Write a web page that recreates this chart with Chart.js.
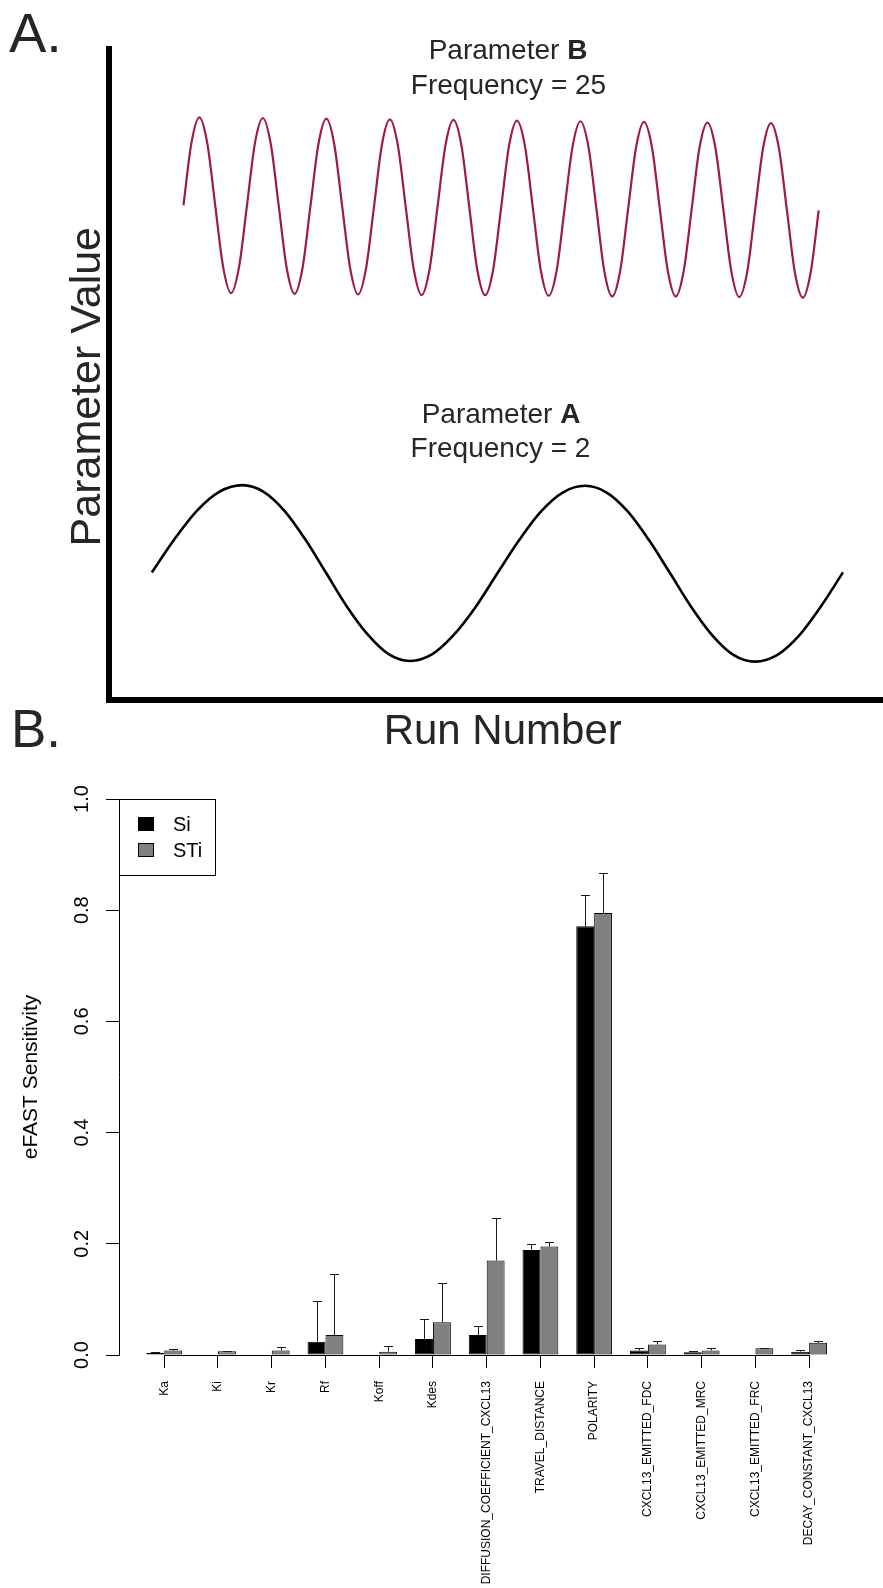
<!DOCTYPE html>
<html>
<head>
<meta charset="utf-8">
<title>eFAST sampling and sensitivity</title>
<script src="https://cdn.jsdelivr.net/npm/chart.js@4.4.1/dist/chart.umd.min.js"></script>
<style>
  html, body { margin: 0; padding: 0; background: #fff; }
  #wrap { position: relative; width: 883px; height: 1588px; overflow: hidden; }
  canvas { position: absolute; left: 0; display: block; }
  #waveChart { top: 0; }
  #sensChart { top: 760px; }
</style>
</head>
<body>
<div id="wrap">
  <canvas id="waveChart" width="883" height="760"></canvas>
  <canvas id="sensChart" width="883" height="828"></canvas>
</div>
<script>
// Panel A: run number (0-1000) against parameter value (0-1)
const waveBRun = [96.2, 106.4,
  116.7, 127.0, 137.2, 147.5, 157.7, 168.0, 178.3, 188.5,
  198.8, 209.0, 219.3, 229.5, 239.8, 250.1, 260.3, 270.6,
  280.8, 291.1, 301.3, 311.6, 321.8, 332.1, 342.4, 352.6,
  362.9, 373.2, 383.4, 393.7, 403.9, 414.2, 424.4, 434.7,
  445.0, 455.3, 465.5, 475.8, 486.0, 496.3, 506.6, 516.8,
  527.1, 537.4, 547.6, 557.9, 568.1, 578.4, 588.6, 598.9,
  609.1, 619.4, 629.7, 639.9, 650.2, 660.4, 670.7, 681.0,
  691.2, 701.5, 711.7, 722.0, 732.2, 742.5, 752.8, 763.0,
  773.3, 783.5, 793.8, 804.1, 814.3, 824.6, 834.8, 845.1,
  855.3, 865.6, 875.9, 886.1, 896.4, 906.6, 916.9];
const waveBValue = [0.760, 0.855,
  0.895, 0.855, 0.760, 0.665, 0.625, 0.665, 0.760, 0.855,
  0.894, 0.854, 0.759, 0.664, 0.624, 0.664, 0.759, 0.854,
  0.893, 0.853, 0.758, 0.663, 0.623, 0.663, 0.758, 0.853,
  0.892, 0.852, 0.757, 0.662, 0.622, 0.662, 0.757, 0.852,
  0.891, 0.852, 0.757, 0.661, 0.622, 0.661, 0.756, 0.851,
  0.890, 0.851, 0.756, 0.660, 0.621, 0.660, 0.755, 0.850,
  0.889, 0.850, 0.755, 0.659, 0.620, 0.659, 0.754, 0.849,
  0.888, 0.849, 0.754, 0.659, 0.620, 0.659, 0.754, 0.849,
  0.887, 0.848, 0.753, 0.658, 0.619, 0.658, 0.753, 0.848,
  0.886, 0.847, 0.752, 0.657, 0.618, 0.657, 0.752];

const waveARun = [55.3, 84.5, 113.8, 143.0, 172.2,
  199.3, 226.4, 253.5, 280.6, 307.7, 334.7, 361.8, 388.9,
  417.2, 445.4, 473.7, 502.0, 530.2, 558.5, 586.7, 615.0,
  642.5, 669.9, 697.4, 724.8, 752.3, 779.7, 807.2, 834.6,
  863.0, 891.5, 919.9, 948.3];
const waveAValue = [0.196, 0.247, 0.291, 0.320, 0.330,
  0.320, 0.291, 0.247, 0.195, 0.143, 0.100, 0.070, 0.060,
  0.070, 0.100, 0.143, 0.195, 0.246, 0.290, 0.319, 0.329,
  0.319, 0.290, 0.246, 0.195, 0.143, 0.099, 0.069, 0.059,
  0.069, 0.099, 0.144, 0.196];

// Panel B: eFAST sensitivity indices
const parameters = ["Ka", "Ki", "Kr", "Rf", "Koff", "Kdes", "DIFFUSION_COEFFICIENT_CXCL13",
  "TRAVEL_DISTANCE", "POLARITY", "CXCL13_EMITTED_FDC", "CXCL13_EMITTED_MRC",
  "CXCL13_EMITTED_FRC", "DECAY_CONSTANT_CXCL13"];
const si = [0.004, 0.001, 0.001, 0.024, 0.001, 0.029, 0.036, 0.189, 0.771, 0.008, 0.005, 0.001, 0.006];
const siErr = [0.002, 0, 0, 0.073, 0, 0.035, 0.017, 0.011, 0.057, 0.004, 0.003, 0, 0.003];
const sti = [0.008, 0.0066, 0.008, 0.036, 0.006, 0.059, 0.170, 0.195, 0.795, 0.019, 0.008, 0.012, 0.022];
const stiErr = [0.003, 0.001, 0.006, 0.110, 0.011, 0.071, 0.077, 0.009, 0.072, 0.007, 0.005, 0.001, 0.004];
const yTicks = [0, 0.2, 0.4, 0.6, 0.8, 1.0];

const FONT = '"Liberation Sans", Arial, Helvetica, sans-serif';
Chart.defaults.font.family = FONT;
Chart.defaults.color = '#000';

function toPoints(xs, ys) {
  return xs.map((x, i) => ({ x: x, y: ys[i] }));
}

// centred text with a bold last word
function mixedText(ctx, plain, bold, cx, y, size) {
  ctx.font = size + 'px ' + FONT;
  const w1 = ctx.measureText(plain).width;
  ctx.font = 'bold ' + size + 'px ' + FONT;
  const w2 = ctx.measureText(bold).width;
  const x0 = cx - (w1 + w2) / 2;
  ctx.textAlign = 'left';
  ctx.font = size + 'px ' + FONT;
  ctx.fillText(plain, x0, y);
  ctx.font = 'bold ' + size + 'px ' + FONT;
  ctx.fillText(bold, x0 + w1, y);
}

const panelAText = {
  id: 'panelAText',
  afterDraw(chart) {
    const ctx = chart.ctx;
    ctx.save();
    ctx.fillStyle = '#262626';
    ctx.textBaseline = 'alphabetic';
    ctx.textAlign = 'left';
    ctx.font = '56px ' + FONT;
    ctx.fillText('A.', 9, 52);
    ctx.font = '53px ' + FONT;
    ctx.fillText('B.', 11, 747);

    mixedText(ctx, 'Parameter ', 'B', 508, 59, 28);
    ctx.textAlign = 'center';
    ctx.font = '28px ' + FONT;
    ctx.fillText('Frequency = 25', 508.5, 94);
    mixedText(ctx, 'Parameter ', 'A', 501, 423, 28);
    ctx.textAlign = 'center';
    ctx.font = '28px ' + FONT;
    ctx.fillText('Frequency = 2', 500.5, 457);

    ctx.font = '42px ' + FONT;
    ctx.fillText('Run Number', 502.7, 744);
    ctx.translate(100, 386.7);
    ctx.rotate(-Math.PI / 2);
    ctx.font = '43px ' + FONT;
    ctx.fillText('Parameter Value', 0, 0);
    ctx.restore();
  }
};

new Chart(document.getElementById('waveChart'), {
  type: 'line',
  data: {
    datasets: [
      {
        label: 'Parameter B',
        data: toPoints(waveBRun, waveBValue),
        borderColor: '#a0184a',
        borderWidth: 2.2,
        pointRadius: 0,
        cubicInterpolationMode: 'monotone',
        fill: false
      },
      {
        label: 'Parameter A',
        data: toPoints(waveARun, waveAValue),
        borderColor: '#000',
        borderWidth: 2.6,
        pointRadius: 0,
        cubicInterpolationMode: 'monotone',
        fill: false
      }
    ]
  },
  options: {
    responsive: false,
    animation: false,
    layout: { padding: { top: 49, right: 0, bottom: 0, left: 0 } },
    plugins: { legend: { display: false }, tooltip: { enabled: false } },
    scales: {
      x: {
        type: 'linear', min: 0, max: 1000,
        ticks: { display: false },
        grid: { display: false },
        border: { color: '#000', width: 6 },
        afterFit: s => { s.height = 60; }
      },
      y: {
        type: 'linear', min: 0, max: 1,
        ticks: { display: false },
        grid: { display: false },
        border: { color: '#000', width: 6 },
        afterFit: s => { s.width = 109; }
      }
    }
  },
  plugins: [panelAText]
});

const errorBars = {
  id: 'errorBars',
  afterDatasetsDraw(chart) {
    const ctx = chart.ctx;
    const y = chart.scales.y;
    const x = chart.scales.x;
    ctx.save();
    ctx.lineWidth = 1;
    ctx.strokeStyle = '#1a1a1a';
    [siErr, stiErr].forEach((errs, d) => {
      const meta = chart.getDatasetMeta(d);
      const vals = chart.data.datasets[d].data;
      meta.data.forEach((bar, i) => {
        if (!errs[i]) return;
        const bx = Math.round(bar.x) + 0.5;
        const top = Math.round(y.getPixelForValue(vals[i].y + errs[i])) + 0.5;
        ctx.beginPath();
        ctx.moveTo(bx, bar.y);
        ctx.lineTo(bx, top);
        ctx.moveTo(bx - 4.5, top);
        ctx.lineTo(bx + 4.5, top);
        ctx.stroke();
      });
    });
    // axis line from first to last tick
    const y0 = Math.round(y.getPixelForValue(0)) + 0.5;
    ctx.strokeStyle = '#000';
    ctx.beginPath();
    ctx.moveTo(x.getPixelForValue(0), y0);
    ctx.lineTo(x.getPixelForValue(parameters.length - 1), y0);
    ctx.stroke();
    ctx.restore();
  }
};

const boxLegend = {
  id: 'boxLegend',
  afterDraw(chart) {
    const ctx = chart.ctx;
    const l = Math.round(chart.chartArea.left);
    const t = Math.round(chart.chartArea.top);
    ctx.save();
    ctx.lineWidth = 1;
    ctx.strokeStyle = '#000';
    ctx.fillStyle = '#fff';
    ctx.fillRect(l + 0.5, t + 0.5, 96, 76);
    ctx.strokeRect(l + 0.5, t + 0.5, 96, 76);
    ctx.font = '20px ' + FONT;
    ctx.textAlign = 'left';
    ctx.textBaseline = 'alphabetic';
    chart.data.datasets.forEach((ds, i) => {
      const base = t + 32 + i * 26;
      ctx.fillStyle = ds.backgroundColor;
      ctx.fillRect(l + 19.5, base - 13.5, 15, 13);
      ctx.strokeRect(l + 19.5, base - 13.5, 15, 13);
      ctx.fillStyle = '#000';
      ctx.fillText(ds.label, l + 54, base);
    });
    ctx.restore();
  }
};

new Chart(document.getElementById('sensChart'), {
  type: 'bar',
  data: {
    datasets: [
      {
        label: 'Si',
        data: toPoints(parameters.map((_, i) => i), si),
        backgroundColor: '#000',
        borderColor: '#000',
        borderWidth: 1,
        borderSkipped: false,
        categoryPercentage: 2 / 3,
        barPercentage: 1
      },
      {
        label: 'STi',
        data: toPoints(parameters.map((_, i) => i), sti),
        backgroundColor: '#808080',
        borderColor: '#000',
        borderWidth: 1,
        borderSkipped: false,
        categoryPercentage: 2 / 3,
        barPercentage: 1
      }
    ]
  },
  options: {
    responsive: false,
    animation: false,
    layout: { padding: { top: 39, right: 47, bottom: 0, left: 0 } },
    plugins: { legend: { display: false }, tooltip: { enabled: false } },
    scales: {
      x: {
        type: 'linear',
        min: -0.842,
        max: 12.5,
        offset: false,
        afterBuildTicks: s => { s.ticks = parameters.map((_, i) => ({ value: i })); },
        ticks: {
          autoSkip: false,
          callback: v => parameters[v],
          font: { size: 12 },
          color: '#000',
          minRotation: 90,
          maxRotation: 90,
          padding: 13
        },
        grid: { drawOnChartArea: false, offset: false, tickLength: 13, color: '#000', lineWidth: 1 },
        border: { display: false },
        afterFit: s => { s.height = 233; }
      },
      y: {
        type: 'linear',
        min: 0,
        max: 1,
        afterBuildTicks: s => { s.ticks = yTicks.map(v => ({ value: v })); },
        ticks: {
          callback: v => v.toFixed(1),
          font: { size: 20 },
          color: '#000',
          minRotation: 90,
          maxRotation: 90,
          crossAlign: 'center',
          padding: 10
        },
        grid: { drawOnChartArea: false, tickLength: 13, color: '#000', lineWidth: 1 },
        border: { color: '#000', width: 1 },
        title: {
          display: true,
          text: 'eFAST Sensitivity',
          font: { size: 21 },
          color: '#000',
          padding: { top: 19, bottom: 0 }
        },
        afterFit: s => { s.width = 119; }
      }
    }
  },
  plugins: [errorBars, boxLegend]
});
</script>
</body>
</html>
